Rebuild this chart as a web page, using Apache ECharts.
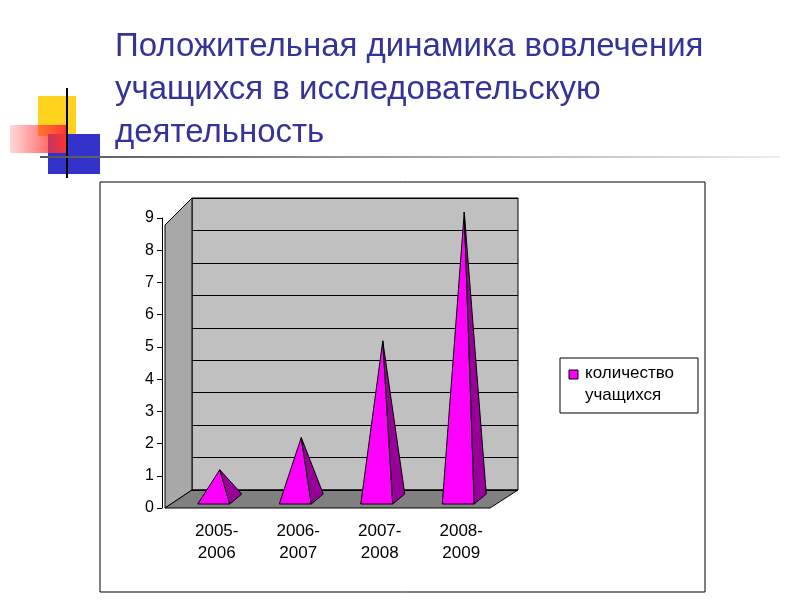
<!DOCTYPE html>
<html><head><meta charset="utf-8">
<script src="https://cdn.jsdelivr.net/npm/echarts@6/dist/echarts.min.js"></script>
<style>html,body{margin:0;padding:0;background:#fff}#c{width:800px;height:600px}</style>
</head><body><div id="c"></div>
<script>
const categories = ['2005-\n2006','2006-\n2007','2007-\n2008','2008-\n2009'];
const values = [1, 2, 5, 9];
const seriesName = 'количество\nучащихся';
const chart = echarts.init(document.getElementById('c'));
chart.setOption({
  animation:false,
  title:{text:'Положительная динамика вовлечения\nучащихся в исследовательскую\nдеятельность',left:110,top:20,
    textStyle:{color:'#333399',fontSize:33,fontWeight:'normal',fontFamily:'Liberation Sans',lineHeight:43}},
  graphic:[
    {type:'rect',shape:{x:100,y:182,width:605,height:410},style:{fill:'none',stroke:'#000',lineWidth:1}},
    {type:'rect',shape:{x:38,y:96,width:38,height:40},style:{fill:'#ffd21e'}},
    {type:'rect',shape:{x:48,y:134,width:52,height:40},style:{fill:'#3333cc'}},
    {type:'rect',shape:{x:10,y:125,width:58,height:28},style:{fill:{type:'linear',x:0,y:0,x2:1,y2:0,colorStops:[{offset:0,color:'rgba(255,60,60,0.2)'},{offset:1,color:'#ff3333'}]}}},
    {type:'line',shape:{x1:67,y1:88,x2:67,y2:178},style:{stroke:'#000',lineWidth:2}},
    {type:'line',shape:{x1:40,y1:157,x2:780,y2:157},style:{stroke:{type:'linear',x:0,y:0,x2:1,y2:0,colorStops:[{offset:0,color:'#555'},{offset:1,color:'#eee'}]},lineWidth:2}},
    {type:'polygon',shape:{points:[[165,225],[192,198],[192,490],[165,508]]},style:{fill:'#a8a8a8',stroke:'#000'}},
    {type:'polygon',shape:{points:[[165,508],[192,490],[518,490],[490,508]]},style:{fill:'#808080',stroke:'#000'}},
    {type:'rect',shape:{x:560,y:358,width:138,height:55},style:{fill:'#fff',stroke:'#000'}},
    {type:'rect',shape:{x:569,y:370,width:9,height:9},style:{fill:'#ff00ff',stroke:'#000'}},
    {type:'text',style:{x:585,y:362,text:seriesName,font:'17px Liberation Sans',fill:'#000',lineHeight:22}}
  ],
  grid:[{left:192,right:282,top:198,bottom:110,show:true,backgroundColor:'#c0c0c0',borderColor:'#000'},
        {left:176,right:298,top:218,bottom:92}],
  xAxis:[{type:'category',data:categories,show:false},
         {type:'category',gridIndex:1,data:categories,axisLine:{show:false},axisTick:{show:false},
          axisLabel:{fontSize:17,color:'#000',fontFamily:'Liberation Sans',margin:12,lineHeight:22}}],
  yAxis:[{type:'value',min:0,max:9,interval:1,axisLine:{show:false},axisTick:{show:false},axisLabel:{show:false},
          splitLine:{lineStyle:{color:'#000'}}},
         {type:'value',gridIndex:1,min:0,max:9,interval:1,offset:14,axisLine:{show:true,lineStyle:{color:'#000'}},
          axisTick:{show:true},splitLine:{show:false},axisLabel:{fontSize:16,color:'#000',fontFamily:'Liberation Sans'}}],
  series:[{type:'custom',xAxisIndex:1,yAxisIndex:1,renderItem:function(params,api){
    const c=api.coord([api.value(0),0]); const t=api.coord([api.value(0),api.value(1)]);
    const x=c[0]+1, b=c[1]-4, yTop=t[1]-6;
    return {type:'group',children:[
      {type:'polygon',shape:{points:[[x-20,b],[x+12,b],[x+2,yTop]]},style:{fill:'#ff00ff',stroke:'#000',lineWidth:1}},
      {type:'polygon',shape:{points:[[x+12,b],[x+24,b-10],[x+2,yTop]]},style:{fill:'#990099',stroke:'#000',lineWidth:1}}
    ]};
  },data:values.map((v,i)=>[i,v]),z:10}]
});
</script></body></html>
